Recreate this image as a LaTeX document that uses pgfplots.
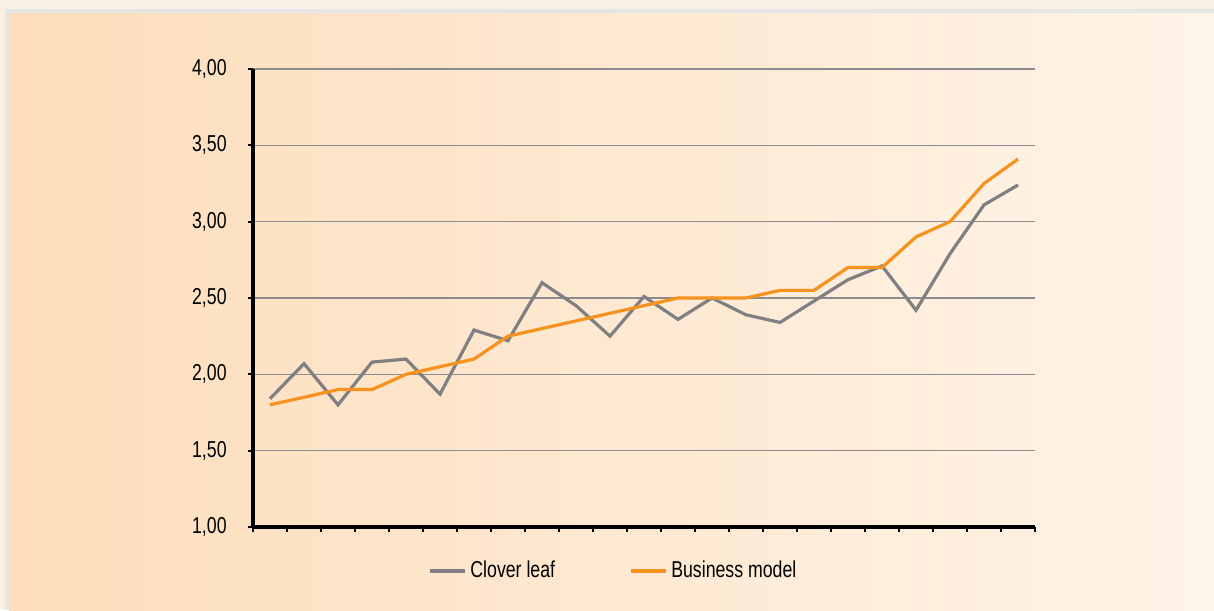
\documentclass[border=0pt]{standalone}
\usepackage{fontspec}
\setmainfont{Liberation Sans}[FakeStretch=0.77]
\usepackage{pgfplots}
\pgfplotsset{compat=1.18}
\definecolor{cream}{RGB}{250,240,227}
\definecolor{panelL}{RGB}{253,221,187}
\definecolor{panelR}{RGB}{254,244,232}
\definecolor{cgrey}{RGB}{128,128,130}
\definecolor{corange}{RGB}{246,146,30}
\definecolor{gridc}{RGB}{140,140,142}
\begin{document}
\fontsize{11.5}{13}\selectfont
\begin{tikzpicture}[x=1pt,y=1pt]
\fill[cream] (0,0) rectangle (607,305);
\fill[black!18] (3,0) rectangle (607,300);
\fill[black!10] (2.5,0) rectangle (607,300.5);
\fill[left color=panelL, right color=panelR] (4.5,0) rectangle (607,298);
\useasboundingbox (0,0) rectangle (607,305);
\begin{axis}[
  at={(126.5pt,41.5pt)}, anchor=south west,
  scale only axis, width=391pt, height=229pt,
  xmin=-0.5, xmax=22.5, ymin=1, ymax=4,
  axis x line=bottom, axis y line=left,
  axis line style={-, line width=1.8pt, black},
  xtick={-0.5,0.5,...,22.5}, xticklabels={},
  ytick={1,1.5,...,4},
  tick align=outside, major tick length=2.5pt,
  tick style={black, line width=1.1pt},
  ymajorgrids, grid style={gridc, line width=0.6pt},
  /pgf/number format/.cd, fixed, fixed zerofill, precision=2, use comma, assume math mode=true,
  /pgfplots/.cd,
  yticklabel style={anchor=east, inner sep=0pt, xshift=-10.5pt, font=\fontsize{11.5}{13}\selectfont},
  legend columns=2,
  legend style={at={(0.462,-0.096)}, anchor=center, draw=none, fill=none,
    font=\fontsize{11.5}{13}\selectfont,
    /tikz/every even column/.append style={column sep=35pt}},
  legend image code/.code={\draw[#1, line width=1.6pt] (0pt,0pt) -- (17.5pt,0pt);},
  clip=false,
]
\addplot[cgrey, line width=1.6pt] coordinates {
(0,1.84) (1,2.07) (2,1.80) (3,2.08) (4,2.10) (5,1.87) (6,2.29) (7,2.22) (8,2.60) (9,2.45)
(10,2.25) (11,2.51) (12,2.36) (13,2.50) (14,2.39) (15,2.34) (16,2.48) (17,2.62) (18,2.71)
(19,2.42) (20,2.79) (21,3.11) (22,3.24)};
\addlegendentry{Clover leaf}
\addplot[corange, line width=1.6pt] coordinates {
(0,1.80) (1,1.85) (2,1.90) (3,1.90) (4,2.00) (5,2.05) (6,2.10) (7,2.25) (8,2.30) (9,2.35)
(10,2.40) (11,2.45) (12,2.50) (13,2.50) (14,2.50) (15,2.55) (16,2.55) (17,2.70) (18,2.70)
(19,2.90) (20,3.00) (21,3.25) (22,3.41)};
\addlegendentry{Business model}
\end{axis}
\end{tikzpicture}
\end{document}
